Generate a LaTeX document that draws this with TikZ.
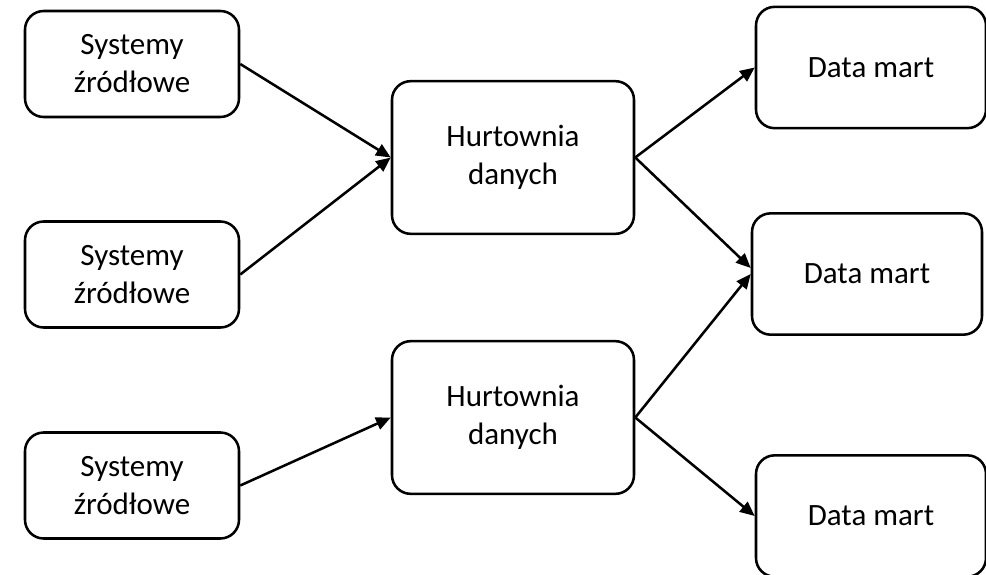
\documentclass[tikz,border=0pt]{standalone}
\usepackage{fontspec}
\setmainfont{Carlito}
\usepackage{tikz}
\usetikzlibrary{arrows.meta, positioning}

\begin{document}
\begin{tikzpicture}[x=0.75pt, y=-0.75pt,
  srcbox/.style={draw, line width=1.9pt, fill=white, rounded corners=14pt, minimum width=160.5pt, minimum height=79.5pt, align=center, inner sep=0pt, font=\fontsize{23.25}{28.5}\selectfont},
  dwbox/.style={srcbox, minimum width=181.5pt, minimum height=114.5pt},
  martbox/.style={srcbox, minimum width=172.5pt, minimum height=91pt},
  flow/.style={line width=1.9pt, -{Triangle[length=11pt, width=9.5pt]}}
]
  \useasboundingbox (0,0) rectangle (986,575);
  \clip (0,0) rectangle (986,575);

  % source systems
  \node[srcbox] (src1) at (132, 64) {Systemy\\źródłowe};
  \node[srcbox] (src2) at (132, 274.5) {Systemy\\źródłowe};
  \node[srcbox] (src3) at (132, 485.5) {Systemy\\źródłowe};

  % warehouses
  \node[dwbox] (dw1) at (513, 157.5) {Hurtownia\\danych};
  \node[dwbox] (dw2) at (513, 417.5) {Hurtownia\\danych};

  % data marts
  \node[martbox] (mart1) at (871, 67.5) {Data mart};
  \node[martbox] (mart2) at (867, 274) {Data mart};
  \node[martbox] (mart3) at (871, 516) {Data mart};

  \draw[flow] (src1.east) -- (dw1.west);
  \draw[flow] (src2.east) -- (dw1.west);
  \draw[flow] (src3.east) -- (dw2.west);

  \draw[flow] (dw1.east) -- (mart1.west);
  \draw[flow] (dw1.east) -- ([yshift=4.5pt]mart2.west);
  \draw[flow] (dw2.east) -- (mart2.west);
  \draw[flow] (dw2.east) -- (mart3.west);
\end{tikzpicture}
\end{document}
